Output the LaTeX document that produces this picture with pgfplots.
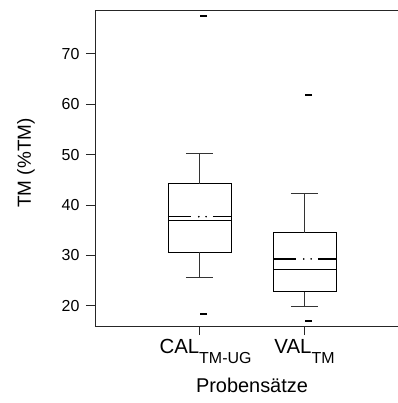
\documentclass[border=0pt]{standalone}
\usepackage{pgfplots}
\pgfplotsset{compat=1.18}
\usepackage{fontspec}
\setmainfont{Liberation Sans}
\begin{document}
\begin{tikzpicture}
\begin{axis}[
  name=ax,
  scale only axis,
  width=303bp, height=316bp,
  xmin=0.005, xmax=2.89,
  ymin=16.0, ymax=78.7,
  axis x line=box, axis y line=left,
  axis line style={-, line width=0.8bp, black!85},
  xtick={1,2},
  xticklabels={{\hspace{12bp}CAL\raisebox{-10bp}{\fontsize{16}{16}\selectfont TM-UG}},{VAL\raisebox{-10bp}{\fontsize{16}{16}\selectfont TM}\hspace{14bp}}},
  ytick={20,30,40,50,60,70},
  xtick pos=bottom, ytick pos=left,
  tick align=outside,
  major tick length=9bp,
  tick style={line width=0.8bp, black!85},
  /pgf/number format/assume math mode=true,
  yticklabel style={font=\fontsize{16}{16}\selectfont, xshift=-3bp},
  xticklabel style={font=\fontsize{20.5}{21}\selectfont, anchor=base, yshift=-18bp},
  xlabel={Probensätze},
  ylabel={TM (\%TM)},
  xlabel style={font=\fontsize{20}{22}\selectfont, at={(axis description cs:0.518,-0.209)}, anchor=base},
  ylabel style={font=\fontsize{19}{21}\selectfont, at={(axis description cs:-0.228,0.516)}, anchor=center},
  clip=false,
]
% CAL box
\addplot[black, line width=0.8bp, line join=miter] coordinates {(0.7,30.7) (1.3,30.7) (1.3,44.2) (0.7,44.2) (0.7,30.7)};
\addplot[black, line width=0.8bp] coordinates {(0.7,36.9) (1.3,36.9)};
\addplot[black!80, line width=0.8bp] coordinates {(1,44.2) (1,50.3)};
\addplot[black!80, line width=0.8bp] coordinates {(0.87,50.3) (1.13,50.3)};
\addplot[black!80, line width=0.8bp] coordinates {(1,30.7) (1,25.6)};
\addplot[black!80, line width=0.8bp] coordinates {(0.87,25.6) (1.13,25.6)};
% VAL box
\addplot[black, line width=0.8bp, line join=miter] coordinates {(1.7,22.8) (2.3,22.8) (2.3,34.5) (1.7,34.5) (1.7,22.8)};
\addplot[black, line width=0.8bp] coordinates {(1.7,27.3) (2.3,27.3)};
\addplot[black!80, line width=0.8bp] coordinates {(2,34.5) (2,42.4)};
\addplot[black!80, line width=0.8bp] coordinates {(1.87,42.4) (2.13,42.4)};
\addplot[black!80, line width=0.8bp] coordinates {(2,22.8) (2,19.8)};
\addplot[black!80, line width=0.8bp] coordinates {(1.87,19.8) (2.13,19.8)};
% mean lines
\addplot[black, line width=1.6bp] coordinates {(0.7,37.7) (0.921,37.7)};
\addplot[black, line width=1.6bp] coordinates {(1.127,37.7) (1.3,37.7)};
\addplot[only marks, mark=*, mark size=0.6bp, black] coordinates {(0.993,37.7) (1.063,37.7)};
\addplot[black, line width=1.6bp] coordinates {(1.7,29.3) (1.921,29.3)};
\addplot[black, line width=1.6bp] coordinates {(2.127,29.3) (2.3,29.3)};
\addplot[only marks, mark=*, mark size=0.6bp, black] coordinates {(1.993,29.3) (2.063,29.3)};
% outliers
\addplot[only marks, mark=-, mark size=3.5bp, mark options={line width=2bp}, black] coordinates {(1.04,77.5) (1.04,18.4)};
\addplot[only marks, mark=-, mark size=3.5bp, mark options={line width=2bp}, black] coordinates {(2.04,61.9) (2.04,17.0)};
\end{axis}
\pgfresetboundingbox
\path[use as bounding box] ([xshift=-95bp,yshift=-77bp]ax.south west) rectangle ([yshift=10bp]ax.north east);
\end{tikzpicture}
\end{document}
